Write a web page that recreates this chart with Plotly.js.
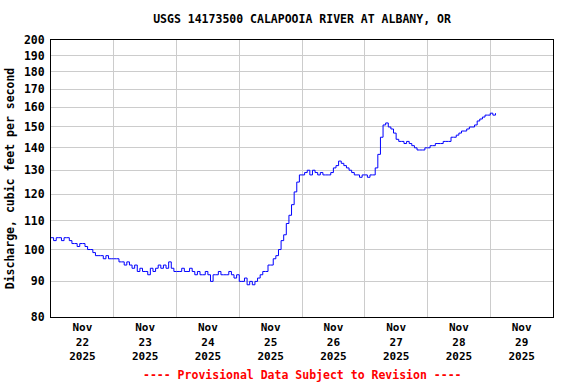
<!DOCTYPE html>
<html>
<head>
<meta charset="utf-8">
<script src="https://cdn.plot.ly/plotly-3.0.1.min.js"></script>
<style>html,body{margin:0;padding:0;background:#fff;}#chart{width:576px;height:384px;}</style>
</head>
<body>
<div id="chart"></div>
<script>
// Hourly discharge (cfs) starting 2025-11-22 00:00 local
const startTime = '2025-11-22T00:00:00';
const discharge = [
  104,103,104,104,103,104,104,103,102,102,
  101,102,102,101,100,100,99,98,98,98,
  97,98,97,97,97,97,96,96,95,96,
  95,94,95,93,94,93,93,92,94,93,
  94,95,94,95,94,96,94,93,93,93,
  94,93,93,94,93,92,93,92,92,93,
  92,90,92,92,93,92,92,92,93,92,
  91,92,90,90,91,89,90,89,90,91,
  92,93,93,95,95,97,98,100,103,105,
  109,112,116,121,125,128,128,129,130,128,
  130,129,128,129,128,128,128,129,131,132,
  134,133,132,131,130,129,128,128,127,128,
  128,127,128,128,131,137,145,151,152,150,
  149,147,144,143,143,142,143,142,141,140,
  139,139,139,140,140,141,141,142,142,142,
  143,143,143,145,145,146,147,148,148,149,
  150,150,151,153,154,155,156,156,157,156,
  157
];
const dayLabels = ['22','23','24','25','26','27','28','29'];
const monthLabel = 'Nov';
const yearLabel = '2025';
const yTicks = [80,90,100,110,120,130,140,150,160,170,180,190,200];

const t0 = new Date(startTime).getTime();
function fmt(ms){
  const d = new Date(ms);
  const p = n => String(n).padStart(2,'0');
  return d.getFullYear()+'-'+p(d.getMonth()+1)+'-'+p(d.getDate())+' '+p(d.getHours())+':'+p(d.getMinutes());
}
const times = discharge.map((v,i)=>fmt(t0 + i*3600000));
const noonTicks = dayLabels.map(d => '2025-11-'+d+' 12:00');
const midnightTicks = dayLabels.map(d => '2025-11-'+d+' 00:00');
const tickText = dayLabels.map(d => monthLabel+'<br>'+d+'<br>'+yearLabel);

const FONT = 'DejaVu Sans Mono, Liberation Mono, monospace';

const trace = {
  x: times, y: discharge, type: 'scatter', mode: 'lines',
  line: {color: '#0000ff', width: 1, shape: 'hv'},
  hoverinfo: 'skip'
};

const layout = {
  width: 576, height: 384,
  margin: {l: 51, r: 23, t: 40, b: 67, pad: 0},
  paper_bgcolor: '#ffffff', plot_bgcolor: '#ffffff',
  showlegend: false,
  font: {family: FONT, size: 11.5, color: '#000', weight: 'bold'},
  title: {
    text: 'USGS 14173500 CALAPOOIA RIVER AT ALBANY, OR',
    font: {family: FONT, size: 11.5, color: '#000', weight: 'bold'},
    xref: 'paper', x: 0.5, xanchor: 'center',
    yref: 'container', y: 1 - 19/384, yanchor: 'middle'
  },
  xaxis: {
    type: 'date',
    range: ['2025-11-22 00:00', '2025-11-30 00:00'],
    tickmode: 'array', tickvals: noonTicks, ticktext: tickText,
    ticks: '', showgrid: false, zeroline: false,
    showline: true, linecolor: '#000', linewidth: 1, mirror: true,
    tickfont: {family: FONT, size: 11, color: '#000', weight: 'bold'},
    minor: {tickmode: 'array', tickvals: midnightTicks, showgrid: true, gridcolor: '#cccccc', gridwidth: 1, ticks: ''},
    fixedrange: true
  },
  yaxis: {
    type: 'log',
    range: [Math.log10(80), Math.log10(200)],
    tickmode: 'array', tickvals: yTicks, ticktext: yTicks.map(String),
    ticks: '', showgrid: true, gridcolor: '#cccccc', gridwidth: 1,
    zeroline: false, ticklabelstandoff: 3,
    showline: true, linecolor: '#000', linewidth: 1, mirror: true,
    tickfont: {family: FONT, size: 11.5, color: '#000', weight: 'bold'},
    title: {text: 'Discharge, cubic feet per second', font: {family: FONT, size: 11.5, color: '#000', weight: 'bold'}, standoff: 6},
    fixedrange: true
  },
  annotations: [{
    text: '---- Provisional Data Subject to Revision ----',
    xref: 'paper', yref: 'paper', x: 0.5, y: -58/277,
    xanchor: 'center', yanchor: 'middle', showarrow: false,
    font: {family: FONT, size: 11.5, color: '#ff0000', weight: 'bold'}
  }]
};

Plotly.newPlot('chart', [trace], layout, {staticPlot: true, displayModeBar: false});
</script>
</body>
</html>
